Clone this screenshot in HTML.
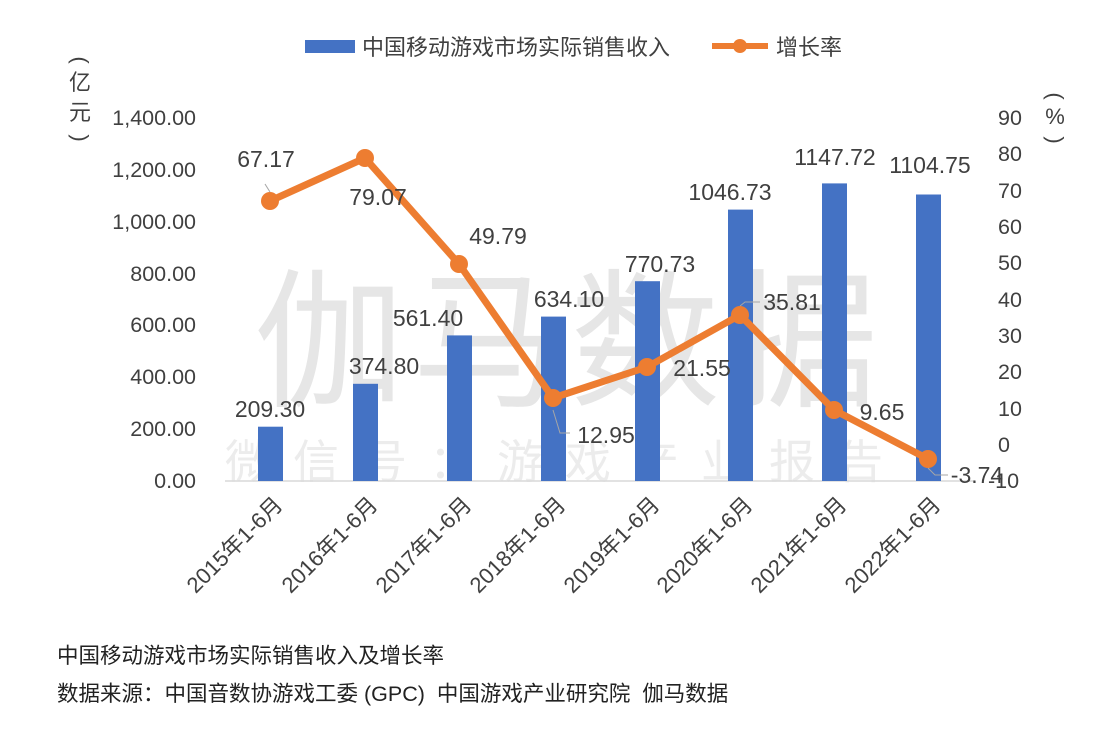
<!DOCTYPE html>
<html><head><meta charset="utf-8"><style>
body{margin:0;background:#fff;}
svg text{font-family:"Liberation Sans","Noto Sans CJK SC",sans-serif;}
</style></head><body>
<svg width="1120" height="751" viewBox="0 0 1120 751" xmlns="http://www.w3.org/2000/svg">
<rect width="1120" height="751" fill="#fff"/>
<!-- watermark -->
<text x="570" y="395" font-size="150" fill="#e6e6e6" text-anchor="middle" letter-spacing="8">伽马数据</text>
<text x="565" y="478" font-size="46" fill="#ececec" text-anchor="middle" letter-spacing="22">微信号：游戏产业报告</text>
<!-- legend -->
<rect x="305" y="40" width="50" height="13" fill="#4472C4"/>
<text x="362" y="55" font-size="22" fill="#404040">中国移动游戏市场实际销售收入</text>
<line x1="712" y1="46" x2="768" y2="46" stroke="#ED7D31" stroke-width="6"/>
<circle cx="740" cy="46" r="7" fill="#ED7D31"/>
<text x="776" y="55" font-size="22" fill="#404040">增长率</text>
<!-- axis titles -->
<g font-size="22" fill="#404040" text-anchor="middle">
<text transform="translate(80,60) rotate(90)" y="7">(</text>
<text x="80" y="90">亿</text><text x="80" y="120">元</text>
<text transform="translate(80,138) rotate(90)" y="7">)</text>
<text transform="translate(1055,96) rotate(90)" y="7">(</text>
<text x="1055" y="124">%</text>
<text transform="translate(1055,140) rotate(90)" y="7">)</text>
</g>
<!-- left ticks -->
<g font-size="21.5" fill="#404040" text-anchor="end">
<text x="196" y="488">0.00</text>
<text x="196" y="436">200.00</text>
<text x="196" y="384">400.00</text>
<text x="196" y="332">600.00</text>
<text x="196" y="281">800.00</text>
<text x="196" y="229">1,000.00</text>
<text x="196" y="177">1,200.00</text>
<text x="196" y="125">1,400.00</text>
</g>
<g font-size="21.5" fill="#404040">
<text x="998" y="125">90</text><text x="998" y="161">80</text><text x="998" y="198">70</text>
<text x="998" y="234">60</text><text x="998" y="270">50</text><text x="998" y="307">40</text>
<text x="998" y="343">30</text><text x="998" y="379">20</text><text x="998" y="416">10</text>
<text x="998" y="452">0</text><text x="988" y="488">-10</text>
</g>
<line x1="225" y1="481" x2="975" y2="481" stroke="#d9d9d9" stroke-width="1.5"/>
<!-- bars -->
<g fill="#4472C4">
<rect x="258" y="426.7" width="25" height="54.3"/>
<rect x="353" y="383.8" width="25" height="97.2"/>
<rect x="447" y="335.4" width="25" height="145.6"/>
<rect x="541" y="316.6" width="25" height="164.4"/>
<rect x="635" y="281.2" width="25" height="199.8"/>
<rect x="728" y="209.6" width="25" height="271.4"/>
<rect x="822" y="183.4" width="25" height="297.6"/>
<rect x="916" y="194.5" width="25" height="286.5"/>
</g>
<!-- bar labels -->
<g font-size="23" fill="#404040" text-anchor="middle">
<text x="270" y="417">209.30</text>
<text x="384" y="374">374.80</text>
<text x="428" y="326">561.40</text>
<text x="569" y="307">634.10</text>
<text x="660" y="272">770.73</text>
<text x="730" y="200">1046.73</text>
<text x="835" y="165">1147.72</text>
<text x="930" y="173">1104.75</text>
</g>
<!-- line -->
<polyline points="270,201 365,158 459,264 553,398 647,367 740,315 834,410 928,459" fill="none" stroke="#ED7D31" stroke-width="7" stroke-linejoin="round"/>
<g fill="#ED7D31">
<circle cx="270" cy="201" r="9"/><circle cx="365" cy="158" r="9"/><circle cx="459" cy="264" r="9"/>
<circle cx="553" cy="398" r="9"/><circle cx="647" cy="367" r="9"/><circle cx="740" cy="315" r="9"/>
<circle cx="834" cy="410" r="9"/><circle cx="928" cy="459" r="9"/>
</g>
<g stroke="#a6a6a6" stroke-width="1" fill="none">
<line x1="265" y1="184" x2="270" y2="192"/>
<polyline points="553,410 560,433 570,433"/>
<polyline points="740,306 745,302 760,302"/>
<polyline points="928,468 935,475 948,475"/>
</g>
<g font-size="23" fill="#404040" text-anchor="middle">
<text x="266" y="167">67.17</text>
<text x="378" y="205">79.07</text>
<text x="498" y="244">49.79</text>
<text x="606" y="443">12.95</text>
<text x="702" y="376">21.55</text>
<text x="792" y="310">35.81</text>
<text x="882" y="420">9.65</text>
<text x="977" y="483">-3.74</text>
</g>
<!-- x labels -->
<g font-size="22" fill="#404040" text-anchor="end">
<text transform="translate(284,506) rotate(-45)">2015年1-6月</text>
<text transform="translate(379,506) rotate(-45)">2016年1-6月</text>
<text transform="translate(473,506) rotate(-45)">2017年1-6月</text>
<text transform="translate(567,506) rotate(-45)">2018年1-6月</text>
<text transform="translate(661,506) rotate(-45)">2019年1-6月</text>
<text transform="translate(754,506) rotate(-45)">2020年1-6月</text>
<text transform="translate(848,506) rotate(-45)">2021年1-6月</text>
<text transform="translate(942,506) rotate(-45)">2022年1-6月</text>
</g>
<text x="57" y="663" font-size="21.5" fill="#222">中国移动游戏市场实际销售收入及增长率</text>
<text x="57" y="701" font-size="21.5" fill="#222" xml:space="preserve">数据来源：中国音数协游戏工委 (GPC)  中国游戏产业研究院  伽马数据</text>
</svg>
</body></html>
